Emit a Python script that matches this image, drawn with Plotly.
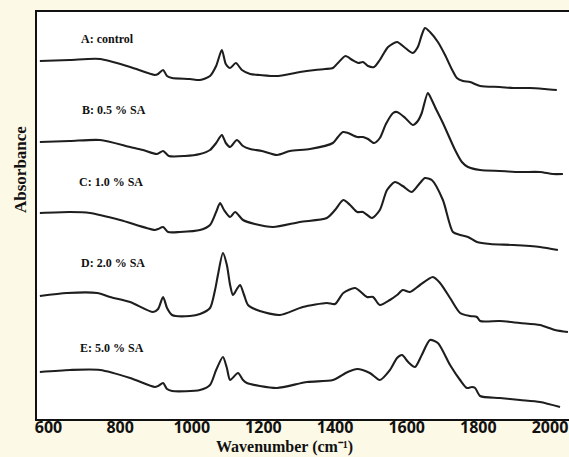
import plotly.graph_objects as go

# Wavenumber (cm-1) and stacked absorbance (a.u.)
wn_A = [576, 660, 744, 828, 897, 906, 920, 931, 945, 995, 1023, 1051, 1068, 1084, 1095, 1107, 1123, 1140, 1163, 1190,
        1241, 1302, 1344, 1372, 1394, 1408, 1429, 1448, 1465, 1478, 1492, 1509, 1525, 1548, 1573, 1596, 1617, 1631,
        1642, 1651, 1665, 1687, 1707, 1727, 1740, 1757, 1777, 1805, 1860, 1897, 1944, 1986, 2019]
ab_A = [8.95, 8.975, 9.0, 8.8, 8.6, 8.625, 8.725, 8.575, 8.525, 8.5, 8.475, 8.575, 8.825, 9.225, 8.875, 8.775, 8.9,
        8.725, 8.625, 8.6, 8.575, 8.675, 8.725, 8.75, 8.775, 8.9, 9.075, 8.975, 8.9, 8.925, 8.825, 8.8, 8.975, 9.3,
        9.425, 9.275, 9.15, 9.3, 9.6, 9.775, 9.675, 9.425, 9.1, 8.725, 8.525, 8.45, 8.425, 8.325, 8.3, 8.275, 8.275,
        8.25, 8.225]

wn_B = [576, 660, 744, 828, 864, 903, 920, 936, 981, 1023, 1051, 1068, 1084, 1095, 1107, 1126, 1143, 1163, 1196, 1238,
        1274, 1330, 1394, 1408, 1422, 1436, 1462, 1478, 1492, 1509, 1525, 1542, 1562, 1573, 1596, 1617, 1631, 1642,
        1659, 1670, 1679, 1701, 1735, 1754, 1771, 1805, 1860, 1916, 1972, 2008, 2036]
ab_B = [6.925, 6.95, 6.975, 6.8, 6.725, 6.625, 6.7, 6.575, 6.575, 6.625, 6.725, 6.9, 7.1, 6.9, 6.8, 6.975, 6.825,
        6.75, 6.7, 6.6, 6.7, 6.75, 6.9, 7.05, 7.175, 7.15, 7.05, 7.05, 7.0, 6.9, 7.025, 7.375, 7.65, 7.675, 7.525,
        7.35, 7.45, 7.65, 8.15, 7.975, 7.8, 7.4, 6.725, 6.425, 6.3, 6.225, 6.2, 6.175, 6.175, 6.125, 6.125]

wn_C = [576, 660, 716, 800, 897, 906, 920, 934, 967, 1023, 1051, 1068, 1079, 1090, 1107, 1121, 1143, 1176, 1227, 1302,
        1377, 1400, 1423, 1442, 1462, 1478, 1503, 1525, 1545, 1567, 1589, 1614, 1637, 1651, 1670, 1701, 1729, 1749,
        1771, 1796, 1833, 1897, 1972, 2022]
ab_C = [5.15, 5.175, 5.15, 4.975, 4.725, 4.75, 4.8, 4.675, 4.675, 4.725, 4.85, 5.175, 5.4, 5.225, 5.05, 5.175, 4.975,
        4.875, 4.8, 4.925, 5.025, 5.225, 5.475, 5.35, 5.175, 5.175, 5.025, 5.225, 5.725, 5.925, 5.825, 5.675, 5.9,
        6.025, 5.975, 5.475, 4.675, 4.6, 4.55, 4.425, 4.375, 4.35, 4.3, 4.225]

wn_D = [576, 652, 736, 772, 828, 892, 906, 920, 931, 945, 995, 1023, 1051, 1065, 1073, 1087, 1098, 1107, 1115, 1126,
        1135, 1146, 1157, 1190, 1246, 1310, 1377, 1400, 1423, 1456, 1489, 1506, 1525, 1553, 1573, 1589, 1609, 1637,
        1673, 1693, 1721, 1749, 1777, 1796, 1805, 1860, 1916, 1972, 2014, 2050]
ab_D = [3.075, 3.15, 3.15, 3.05, 2.925, 2.675, 2.75, 3.05, 2.775, 2.6, 2.575, 2.625, 2.775, 3.225, 3.6, 4.15, 3.85,
        3.35, 3.1, 3.25, 3.35, 3.1, 2.85, 2.7, 2.6, 2.8, 2.9, 2.875, 3.15, 3.275, 3.05, 3.05, 2.85, 2.975, 3.1, 3.225,
        3.175, 3.35, 3.55, 3.4, 3.025, 2.65, 2.575, 2.55, 2.45, 2.45, 2.4, 2.35, 2.225, 2.175]

wn_E = [576, 660, 744, 828, 897, 906, 920, 931, 945, 1023, 1051, 1068, 1087, 1098, 1107, 1129, 1143, 1154, 1190, 1238,
        1322, 1394, 1435, 1462, 1497, 1525, 1553, 1573, 1587, 1604, 1623, 1642, 1665, 1687, 1721, 1749, 1768, 1782,
        1791, 1805, 1860, 1916, 1972, 2028]
ab_E = [1.175, 1.225, 1.225, 1.025, 0.8, 0.825, 0.9, 0.75, 0.7, 0.725, 0.85, 1.225, 1.55, 1.275, 0.975, 1.15, 0.975,
        0.9, 0.825, 0.775, 0.925, 0.975, 1.175, 1.25, 1.15, 0.975, 1.225, 1.525, 1.6, 1.425, 1.3, 1.6, 1.975, 1.9,
        1.35, 0.975, 0.775, 0.8, 0.775, 0.575, 0.525, 0.475, 0.425, 0.3]

labels = ["A: control", "B: 0.5 % SA", "C: 1.0 % SA", "D: 2.0 % SA", "E: 5.0 % SA"]
label_wn = [766, 783, 775, 780, 777]
label_ab = [9.5, 7.725, 5.925, 3.9, 1.775]

tick_vals = [600, 800, 1000, 1200, 1400, 1600, 1800, 2000]

series = [(wn_A, ab_A), (wn_B, ab_B), (wn_C, ab_C), (wn_D, ab_D), (wn_E, ab_E)]

fig = go.Figure()
for (wx, ay), name in zip(series, labels):
    fig.add_trace(go.Scatter(x=wx, y=ay, mode="lines", name=name,
                             line=dict(color="#1e1e1e", width=2.1, shape="spline", smoothing=0.7),
                             showlegend=False, hoverinfo="skip"))

for t, xw, ya in zip(labels, label_wn, label_ab):
    fig.add_annotation(x=xw, y=ya, xref="x", yref="y", text=t, showarrow=False,
                       font=dict(family="Liberation Serif", size=12, color="#111", weight="bold"))

# axis titles placed as annotations (paper fractions of the 532x407 plot area)
fig.add_annotation(x=(20 - 37) / 532, y=(419 - 170) / 407, xref="paper", yref="paper", text="Absorbance",
                   showarrow=False, textangle=-90, xanchor="center", yanchor="middle",
                   font=dict(family="Liberation Serif", size=17, color="#111", weight="bold"))
fig.add_annotation(x=(284 - 37) / 532, y=-(457 - 419) / 407, xref="paper", yref="paper",
                   text="Wavenumber (cm\u207b\u00b9)", showarrow=False, xanchor="center", yanchor="bottom",
                   borderpad=0,
                   font=dict(family="Liberation Serif", size=16, color="#111", weight="bold"))

fig.update_layout(
    width=569, height=457,
    margin=dict(l=37, r=0, t=12, b=38),
    paper_bgcolor="#FDF9E7", plot_bgcolor="white",
    xaxis=dict(range=[568, 2053], tickvals=tick_vals, showgrid=False, zeroline=False,
               showline=True, linewidth=2, linecolor="#111", mirror=True, ticks="",
               ticklabelstandoff=-7,
               tickfont=dict(family="Open Sans", size=16, color="#111", weight="bold")),
    yaxis=dict(range=[0, 10.175], showticklabels=False, showgrid=False, zeroline=False,
               showline=True, linewidth=2, linecolor="#111", ticks=""),
)

fig.write_html("out.html")
